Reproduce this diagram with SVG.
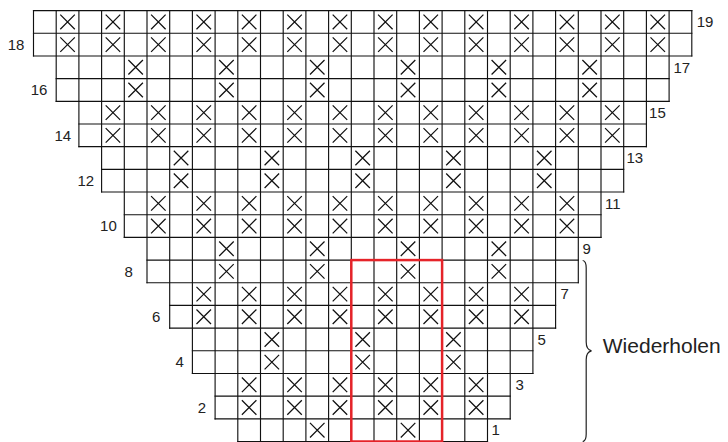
<svg xmlns="http://www.w3.org/2000/svg" width="728" height="442" viewBox="0 0 728 442">
<style>
.grid{fill:none;stroke:#111;stroke-width:.05;stroke-linecap:square}
.xm{fill:none;stroke:#111;stroke-width:.055}
.frame{fill:none;stroke:#e52329;stroke-width:.11}
.num{font-family:"Liberation Sans",Arial,sans-serif;font-size:15px;fill:#222}
.big{font-family:"Liberation Sans",Arial,sans-serif;font-size:21px;fill:#222}
.brace{fill:none;stroke:#222;stroke-width:1.2}
</style>
<defs>
<path id="x" d="M.18 .18L.82 .82M.82 .18L.18 .82"/>
<path id="xx" d="M.18 .18L.82 .82M.82 .18L.18 .82M.18 1.18L.82 1.82M.82 1.18L.18 1.82"/>
</defs>
<rect width="728" height="442" fill="#fff"/>
<g transform="translate(33.5,10.6) scale(22.7,22.68)">
<g id="grid">
<path class="grid" d="M0 0H29M0 1H29M0 2H29M1 3H28M1 4H28M2 5H27M2 6H27M3 7H26M3 8H26M4 9H25M4 10H25M5 11H24M5 12H24M6 13H23M6 14H23M7 15H22M7 16H22M8 17H21M8 18H21M9 19H20"/>
<path class="grid" d="M0 0V2M1 0V4M2 0V6M3 0V8M4 0V10M5 0V12M6 0V14M7 0V16M8 0V18M9 0V19M10 0V19M11 0V19M12 0V19M13 0V19M14 0V19M15 0V19M16 0V19M17 0V19M18 0V19M19 0V19M20 0V19M21 0V18M22 0V16M23 0V14M24 0V12M25 0V10M26 0V8M27 0V6M28 0V4M29 0V2"/>
</g>
<g id="marks" class="xm">
<g id="rows-19-18"><use href="#xx" x="1" y="0"/><use href="#xx" x="3" y="0"/><use href="#xx" x="5" y="0"/><use href="#xx" x="7" y="0"/><use href="#xx" x="9" y="0"/><use href="#xx" x="11" y="0"/><use href="#xx" x="13" y="0"/><use href="#xx" x="15" y="0"/><use href="#xx" x="17" y="0"/><use href="#xx" x="19" y="0"/><use href="#xx" x="21" y="0"/><use href="#xx" x="23" y="0"/><use href="#xx" x="25" y="0"/><use href="#xx" x="27" y="0"/></g>
<g id="rows-17-16"><use href="#xx" x="4" y="2"/><use href="#xx" x="8" y="2"/><use href="#xx" x="12" y="2"/><use href="#xx" x="16" y="2"/><use href="#xx" x="20" y="2"/><use href="#xx" x="24" y="2"/></g>
<g id="rows-15-14"><use href="#xx" x="3" y="4"/><use href="#xx" x="5" y="4"/><use href="#xx" x="7" y="4"/><use href="#xx" x="9" y="4"/><use href="#xx" x="11" y="4"/><use href="#xx" x="13" y="4"/><use href="#xx" x="15" y="4"/><use href="#xx" x="17" y="4"/><use href="#xx" x="19" y="4"/><use href="#xx" x="21" y="4"/><use href="#xx" x="23" y="4"/><use href="#xx" x="25" y="4"/></g>
<g id="rows-13-12"><use href="#xx" x="6" y="6"/><use href="#xx" x="10" y="6"/><use href="#xx" x="14" y="6"/><use href="#xx" x="18" y="6"/><use href="#xx" x="22" y="6"/></g>
<g id="rows-11-10"><use href="#xx" x="5" y="8"/><use href="#xx" x="7" y="8"/><use href="#xx" x="9" y="8"/><use href="#xx" x="11" y="8"/><use href="#xx" x="13" y="8"/><use href="#xx" x="15" y="8"/><use href="#xx" x="17" y="8"/><use href="#xx" x="19" y="8"/><use href="#xx" x="21" y="8"/><use href="#xx" x="23" y="8"/></g>
<g id="rows-9-8"><use href="#xx" x="8" y="10"/><use href="#xx" x="12" y="10"/><use href="#xx" x="16" y="10"/><use href="#xx" x="20" y="10"/></g>
<g id="rows-7-6"><use href="#xx" x="7" y="12"/><use href="#xx" x="9" y="12"/><use href="#xx" x="11" y="12"/><use href="#xx" x="13" y="12"/><use href="#xx" x="15" y="12"/><use href="#xx" x="17" y="12"/><use href="#xx" x="19" y="12"/><use href="#xx" x="21" y="12"/></g>
<g id="rows-5-4"><use href="#xx" x="10" y="14"/><use href="#xx" x="14" y="14"/><use href="#xx" x="18" y="14"/></g>
<g id="rows-3-2"><use href="#xx" x="9" y="16"/><use href="#xx" x="11" y="16"/><use href="#xx" x="13" y="16"/><use href="#xx" x="15" y="16"/><use href="#xx" x="17" y="16"/><use href="#xx" x="19" y="16"/></g>
<g id="row-1"><use href="#x" x="12" y="18"/><use href="#x" x="16" y="18"/></g>
</g>
<g id="repeat-frame"><rect class="frame" x="14" y="11" width="4" height="8"/></g>
</g>
<g id="row-labels" class="num">
<text x="696.7" y="27.2">19</text>
<text x="673.4" y="72.6">17</text>
<text x="649.1" y="118">15</text>
<text x="626.4" y="163.3">13</text>
<text x="605.1" y="208.7">11</text>
<text x="582.4" y="254">9</text>
<text x="560.4" y="299.4">7</text>
<text x="537.4" y="344.5">5</text>
<text x="515.4" y="390">3</text>
<text x="491.4" y="435.4">1</text>
<text x="7.7" y="49.9">18</text>
<text x="30.7" y="95.3">16</text>
<text x="54.4" y="140.6">14</text>
<text x="77.4" y="186">12</text>
<text x="100.1" y="231.4">10</text>
<text x="124.4" y="276.7">8</text>
<text x="152" y="322">6</text>
<text x="175.5" y="366.8">4</text>
<text x="197.7" y="412.8">2</text>
</g>
<g id="brace"><path class="brace" d="M582.7 260.5C585.7 261 586.2 263.5 586.2 268V342C586.2 347 588 350 591.5 350.8C588 351.6 586.2 354.5 586.2 359.5V434C586.2 438.5 585.7 441 582.7 441.6"/></g>
<g id="label-wiederholen"><text class="big" x="602.8" y="352.7">Wiederholen</text></g>
</svg>
